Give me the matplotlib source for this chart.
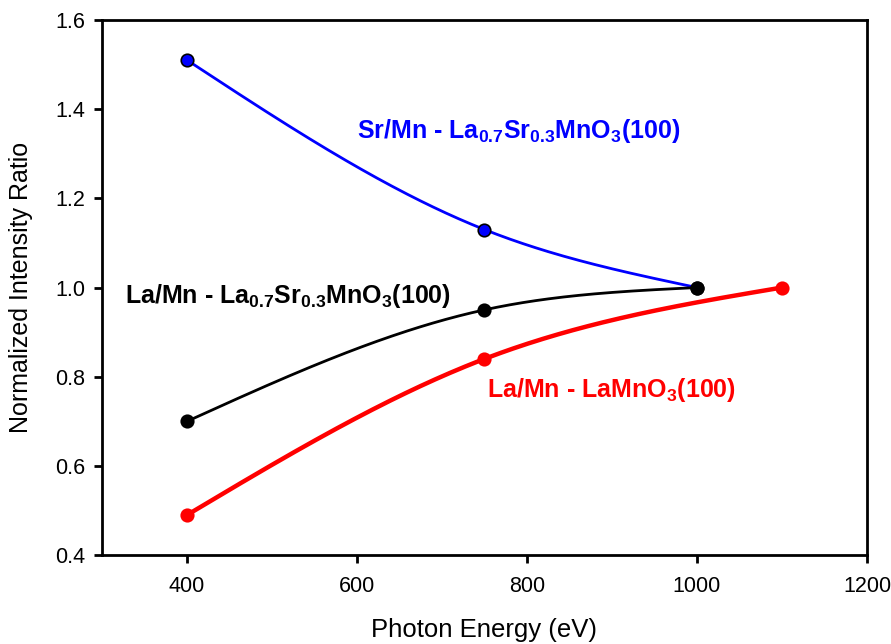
import numpy as np
import matplotlib.pyplot as plt

# data
sr_x = [400, 750, 1000]
sr_y = [1.51, 1.13, 1.00]
la_x = [400, 750, 1000]
la_y = [0.70, 0.95, 1.00]
lamno_x = [400, 750, 1100]
lamno_y = [0.49, 0.84, 1.00]

x_ticks = [400, 600, 800, 1000, 1200]
y_ticks = [0.4, 0.6, 0.8, 1.0, 1.2, 1.4, 1.6]


def natural_spline(x, y, n=200):
    x = np.asarray(x, float)
    y = np.asarray(y, float)
    k = len(x)
    h = np.diff(x)
    A = np.zeros((k, k))
    b = np.zeros(k)
    A[0, 0] = 1
    A[-1, -1] = 1
    for i in range(1, k - 1):
        A[i, i - 1] = h[i - 1]
        A[i, i] = 2 * (h[i - 1] + h[i])
        A[i, i + 1] = h[i]
        b[i] = 6 * ((y[i + 1] - y[i]) / h[i] - (y[i] - y[i - 1]) / h[i - 1])
    m = np.linalg.solve(A, b)
    xs = np.linspace(x[0], x[-1], n)
    idx = np.clip(np.searchsorted(x, xs) - 1, 0, k - 2)
    x0, x1 = x[idx], x[idx + 1]
    hh = x1 - x0
    t0, t1 = x1 - xs, xs - x0
    ys = (m[idx] * t0 ** 3 + m[idx + 1] * t1 ** 3) / (6 * hh) \
        + (y[idx] / hh - m[idx] * hh / 6) * t0 \
        + (y[idx + 1] / hh - m[idx + 1] * hh / 6) * t1
    return xs, ys


plt.rcParams['font.family'] = ['Liberation Sans', 'DejaVu Sans']
plt.rcParams['mathtext.fontset'] = 'custom'
plt.rcParams['mathtext.rm'] = 'Liberation Sans'
plt.rcParams['mathtext.bf'] = 'Liberation Sans:bold'
plt.rcParams['mathtext.default'] = 'bf'

fig = plt.figure(figsize=(8.91, 6.44), dpi=100)
ax = fig.add_axes([0.1145, 0.138, 0.8585, 0.831])

for xv, yv, col, lw, ec in [(sr_x, sr_y, 'blue', 2.0, 'black'),
                            (la_x, la_y, 'black', 2.0, 'black'),
                            (lamno_x, lamno_y, 'red', 3.2, 'red')]:
    xs, ys = natural_spline(xv, yv)
    ax.plot(xs, ys, color=col, lw=lw, zorder=2)
    ax.plot(xv, yv, 'o', color=col, mec=ec, mew=1.2, ms=9, zorder=3)

ax.set_xlim(300, 1200)
ax.set_ylim(0.4, 1.6)
ax.set_xticks(x_ticks)
ax.set_yticks(y_ticks)
ax.set_yticklabels([f"{v:.1f}" for v in y_ticks])
ax.tick_params(direction='out', length=6, width=2, labelsize=15.5, pad=6)
ax.tick_params(axis='x', pad=9)
for s in ax.spines.values():
    s.set_linewidth(2)

ax.set_xlabel("Photon Energy (eV)", fontsize=18.5)
ax.xaxis.set_label_coords(0.5, -0.118)
ax.set_ylabel("Normalized Intensity Ratio", fontsize=18)
ax.yaxis.set_label_coords(-0.09, 0.5)

ax.text(600, 1.35, r'Sr/Mn - La$_{0.7}$Sr$_{0.3}$MnO$_3$(100)', color='blue',
        fontsize=18, fontweight='bold', va='center')
ax.text(327, 0.98, r'La/Mn - La$_{0.7}$Sr$_{0.3}$MnO$_3$(100)', color='black',
        fontsize=18, fontweight='bold', va='center')
ax.text(753, 0.77, r'La/Mn - LaMnO$_3$(100)', color='red',
        fontsize=18, fontweight='bold', va='center')

fig.savefig('out.png', dpi=100)
